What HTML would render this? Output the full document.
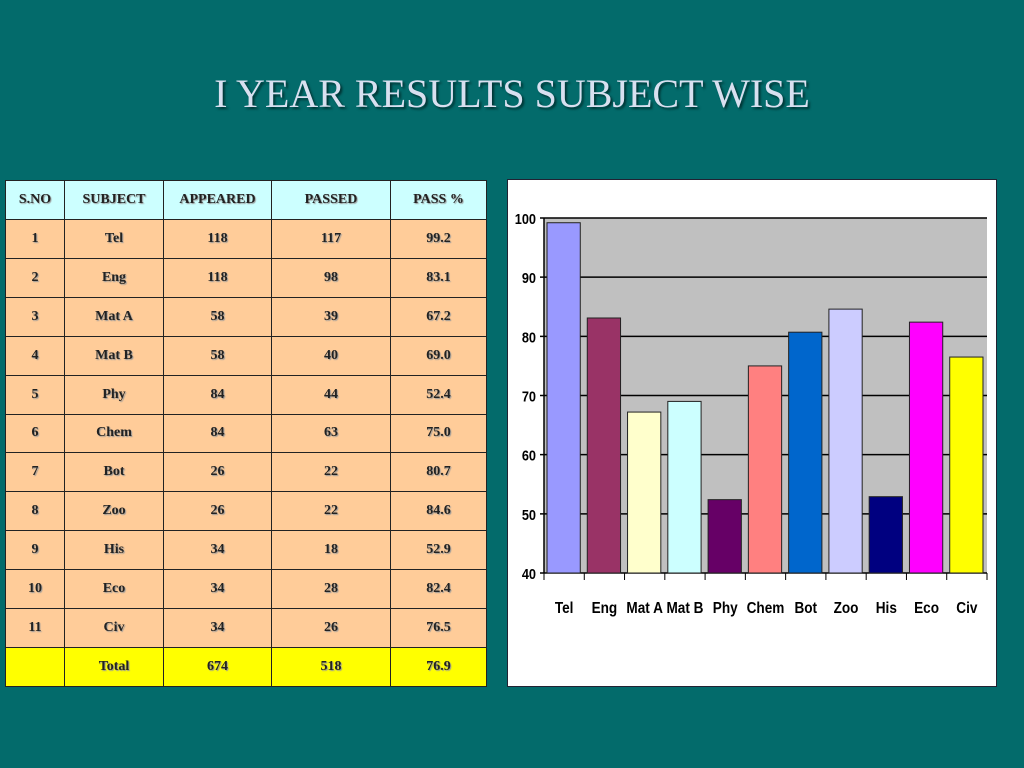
<!DOCTYPE html>
<html><head><meta charset="utf-8"><style>
body{margin:0;width:1024px;height:768px;background:#036b6b;position:relative;overflow:hidden;font-family:"Liberation Serif",serif}
#title{position:absolute;left:0;width:1024px;top:70px;text-align:center;font-size:40px;color:#d8e0f0;text-shadow:2px 2px 2px #033}
table{position:absolute;left:5px;top:180px;border-collapse:collapse;width:482px;height:507px}
td{border:1.5px solid #222;text-align:center;font-weight:bold;font-size:14px;color:#222;text-shadow:1px 1px 1px #999;padding:0}
tr.h td{background:#ccffff}
tr.d td{background:#ffcc99}
tr.t td{background:#ffff00}
#chart{position:absolute;left:507px;top:179px;width:488px;height:506px;background:#fff;border:1px solid #223}
</style></head><body>
<div id="title">I YEAR RESULTS SUBJECT WISE</div>
<table>
<colgroup><col style="width:59px"><col style="width:99px"><col style="width:108px"><col style="width:119px"><col></colgroup>
<tr class="h"><td>S.NO</td><td>SUBJECT</td><td>APPEARED</td><td>PASSED</td><td>PASS %</td></tr>
<tr class="d"><td>1</td><td>Tel</td><td>118</td><td>117</td><td>99.2</td></tr>
<tr class="d"><td>2</td><td>Eng</td><td>118</td><td>98</td><td>83.1</td></tr>
<tr class="d"><td>3</td><td>Mat A</td><td>58</td><td>39</td><td>67.2</td></tr>
<tr class="d"><td>4</td><td>Mat B</td><td>58</td><td>40</td><td>69.0</td></tr>
<tr class="d"><td>5</td><td>Phy</td><td>84</td><td>44</td><td>52.4</td></tr>
<tr class="d"><td>6</td><td>Chem</td><td>84</td><td>63</td><td>75.0</td></tr>
<tr class="d"><td>7</td><td>Bot</td><td>26</td><td>22</td><td>80.7</td></tr>
<tr class="d"><td>8</td><td>Zoo</td><td>26</td><td>22</td><td>84.6</td></tr>
<tr class="d"><td>9</td><td>His</td><td>34</td><td>18</td><td>52.9</td></tr>
<tr class="d"><td>10</td><td>Eco</td><td>34</td><td>28</td><td>82.4</td></tr>
<tr class="d"><td>11</td><td>Civ</td><td>34</td><td>26</td><td>76.5</td></tr>
<tr class="t"><td></td><td>Total</td><td>674</td><td>518</td><td>76.9</td></tr>
</table>
<div id="chart"><svg id="svg" width="488" height="506"></svg></div>
<script>
const categories=["Tel","Eng","Mat A","Mat B","Phy","Chem","Bot","Zoo","His","Eco","Civ"];
const values=[99.2,83.1,67.2,69.0,52.4,75.0,80.7,84.6,52.9,82.4,76.5];
const colors=["#9999ff","#993366","#ffffcc","#ccffff","#660066","#ff8080","#0066cc","#ccccff","#000080","#ff00ff","#ffff00"];
const ticks=[40,50,60,70,80,90,100];
const NS="http://www.w3.org/2000/svg";
const svg=document.getElementById('svg');
const X0=36,X1=479,Y0=393,Y1=38,vmin=40,vmax=100;
const y=v=>Y0-(v-vmin)/(vmax-vmin)*(Y0-Y1);
const cw=(X1-X0)/categories.length;
const x=i=>X0+i*cw;
function mk(t,a){const e=document.createElementNS(NS,t);for(const k in a)e.setAttribute(k,a[k]);svg.appendChild(e);return e;}
const bg=mk('rect',{x:X0,y:Y1,width:X1-X0,height:Y0-Y1,fill:'#c0c0c0'});


ticks.forEach(t=>{
 const l=mk('line',{x1:X0-4,x2:X1,y1:y(t),y2:y(t),stroke:'#000','stroke-width':1.5});
 
 
 const tx=mk('text',{x:X0-8,y:y(t)+6,'text-anchor':'end','font-family':'Liberation Sans Narrow, Liberation Sans, sans-serif','font-size':15,'font-weight':'bold',transform:`scale(0.85,1)`});
 tx.setAttribute('transform',`translate(${(X0-8)*0.15},0) scale(0.85,1)`);
 tx.textContent=t;
 
 
});
mk('line',{x1:X0,x2:X0,y1:Y1,y2:Y0,stroke:'#000','stroke-width':1.5});
values.forEach((v,i)=>{
 const r=mk('rect',{x:x(i)+3,y:y(v),width:cw-7,height:Y0-y(v),fill:colors[i],stroke:'#222','stroke-width':1});
 
 
 const tk=mk('line',{x1:x(i),x2:x(i),y1:Y0,y2:Y0+7,stroke:'#000'});
 
 
 const cx=x(i)+cw/2;
 const tx=mk('text',{x:cx,y:Y0+40,'text-anchor':'middle','font-family':'Liberation Sans Narrow, Liberation Sans, sans-serif','font-size':16,'font-weight':'bold'});
 tx.setAttribute('transform',`translate(${cx*0.15},0) scale(0.85,1)`);
 tx.textContent=categories[i];
 
 
});
mk('line',{x1:X1,x2:X1,y1:Y0,y2:Y0+7,stroke:'#000'});
</script>
</body></html>
